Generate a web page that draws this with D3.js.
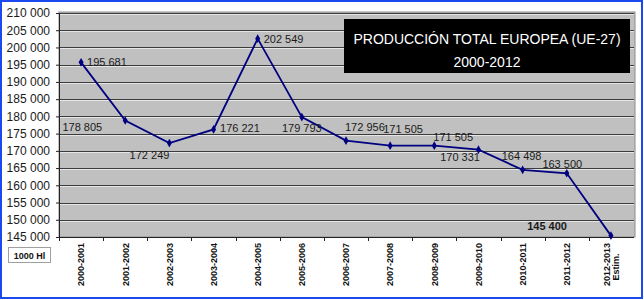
<html>
<script src='https://d3js.org/d3.v7.min.js'></script>
<style>
  body { margin: 0; background: #fff; }
  text { font-family: Arial, "Liberation Sans", sans-serif; }
</style>
<body>
<svg width=644 height=300></svg>
<script>

var seasons = ["2000-2001", "2001-2002", "2002-2003", "2003-2004", "2004-2005",
  "2005-2006", "2006-2007", "2007-2008", "2008-2009", "2009-2010",
  "2010-2011", "2011-2012", "2012-2013"];
var production = [195681, 178805, 172249, 176221, 202549, 179793, 172956,
  171505, 171505, 170331, 164498, 163500, 145400];
var yTicks = [145000, 150000, 155000, 160000, 165000, 170000, 175000, 180000,
  185000, 190000, 195000, 200000, 205000, 210000];

// where each data label sits relative to its point (like excel placed them)
var labelPlace = [
  {dx: 6, dy: 0, anchor: "start"},
  {dx: -23, dy: 6.5, anchor: "end"},
  {dx: 0, dy: 11.5, anchor: "end"},
  {dx: 6.5, dy: -1, anchor: "start"},
  {dx: 6, dy: 0, anchor: "start"},
  {dx: 0, dy: 11, anchor: "middle"},
  {dx: -1, dy: -13.5, anchor: "start"},
  {dx: -7, dy: -16.5, anchor: "start"},
  {dx: -1, dy: -8.5, anchor: "start"},
  {dx: 1.5, dy: 7.5, anchor: "end"},
  {dx: -1, dy: -14, anchor: "middle"},
  {dx: -4.5, dy: -9, anchor: "middle"},
  {dx: -44, dy: -9.5, anchor: "end"}
];

var svg = d3.select("svg");
var fmt = function(v) { return d3.format(",")(v).replace(/,/g, " "); };

var plotL = 59, plotR = 633, plotT = 13, plotB = 237;

var x = d3.scaleBand().domain(seasons).range([plotL, plotR]);
var y = d3.scaleLinear().domain([145000, 210000]).range([plotB, plotT]);

//outer blue frame
svg.append("rect")
  .attr("x", 1).attr("y", 1).attr("width", 641).attr("height", 297)
  .attr("fill", "#fff").attr("stroke", "#1c48f0").attr("stroke-width", 2);

//plot area
svg.append("rect")
  .attr("x", plotL).attr("y", plotT - 1).attr("width", plotR - plotL + 2).attr("height", plotB - plotT + 1)
  .attr("fill", "#c0c0c0").attr("stroke", "#8c8c8c").attr("stroke-width", 1);

//gridlines
var grid = svg.append("g");
yTicks.filter(function(t) { return t > 145000; }).forEach(function(t) {
  grid.append("line")
    .attr("x1", plotL).attr("x2", plotR + 1)
    .attr("y1", Math.round(y(t)) + 0.5).attr("y2", Math.round(y(t)) + 0.5)
    .attr("stroke", "#3c3c3c").attr("stroke-width", 1.2);
  grid.append("line")
    .attr("x1", plotL).attr("x2", plotR + 1)
    .attr("y1", Math.round(y(t)) + 1.5).attr("y2", Math.round(y(t)) + 1.5)
    .attr("stroke", "#e6e6e6").attr("stroke-width", 1);
});

//y-axis
var yAxis = svg.append("g")
  .attr("transform", "translate(" + plotL + ",0)")
  .call(d3.axisLeft(y).tickValues(yTicks).tickFormat(fmt).tickSize(3).tickPadding(6));
yAxis.select(".domain").attr("stroke", "#222");
yAxis.selectAll("line").attr("stroke", "#222");
yAxis.selectAll("text").attr("font-size", "12px").attr("fill", "#1a1a1a")
  .attr("font-family", "Arial, 'Liberation Sans', sans-serif");

//x-axis (ticks at category borders)
var xAxis = svg.append("g").attr("transform", "translate(0," + plotB + ")");
xAxis.append("line").attr("x1", plotL).attr("x2", plotR + 1)
  .attr("y1", 0.5).attr("y2", 0.5).attr("stroke", "#222");
seasons.forEach(function(s, i) {
  var bx = Math.round(x(s)) + 0.5;
  xAxis.append("line").attr("x1", bx).attr("x2", bx).attr("y1", 0).attr("y2", 4)
    .attr("stroke", "#222");
});
seasons.forEach(function(s, i) {
  var cx = x(s) + x.bandwidth() / 2;
  if (i < seasons.length - 1) {
    svg.append("text")
      .attr("transform", "translate(" + (cx + 3.3) + ",243) rotate(-90)")
      .attr("text-anchor", "end")
      .attr("font-size", "9px").attr("font-weight", "bold").attr("fill", "#111")
      .text(s);
  } else {
    svg.append("text")
      .attr("transform", "translate(" + (cx - 1) + ",243) rotate(-90)")
      .attr("text-anchor", "end")
      .attr("font-size", "9px").attr("font-weight", "bold").attr("fill", "#111")
      .text(s);
    svg.append("text")
      .attr("transform", "translate(" + (cx + 8.5) + ",267) rotate(-90)")
      .attr("text-anchor", "middle")
      .attr("font-size", "9px").attr("font-weight", "bold").attr("fill", "#111")
      .text("Estim.");
  }
});

//unit box
svg.append("rect").attr("x", 8.5).attr("y", 247.5).attr("width", 42).attr("height", 15)
  .attr("fill", "#fff").attr("stroke", "#a0a0a0");
svg.append("text").attr("x", 29.5).attr("y", 258.5).attr("text-anchor", "middle")
  .attr("font-size", "9px").attr("font-weight", "bold").attr("fill", "#111")
  .text("1000 Hl");

//line
var cx = function(d, i) { return x(seasons[i]) + x.bandwidth() / 2; };
var line = d3.line().x(function(d, i) { return cx(d, i); }).y(function(d) { return y(d); });
svg.append("path").datum(production)
  .attr("d", line).attr("fill", "none")
  .attr("stroke", "#000080").attr("stroke-width", 1.8);

svg.selectAll(".pt").data(production).enter().append("path")
  .attr("class", "pt")
  .attr("transform", function(d, i) { return "translate(" + cx(d, i) + "," + y(d) + ")"; })
  .attr("d", d3.symbol().type(d3.symbolDiamond).size(22))
  .attr("fill", "#000080");

//data labels
svg.selectAll(".lbl").data(production).enter().append("text")
  .attr("class", "lbl")
  .attr("x", function(d, i) { return cx(d, i) + labelPlace[i].dx; })
  .attr("y", function(d, i) { return y(d) + labelPlace[i].dy + 4; })
  .attr("text-anchor", function(d, i) { return labelPlace[i].anchor; })
  .attr("font-size", "11px")
  .attr("font-weight", function(d, i) { return i === production.length - 1 ? "bold" : "normal"; })
  .attr("fill", "#1a1a1a")
  .text(fmt);

//title box
svg.append("rect").attr("x", 344).attr("y", 19).attr("width", 286).attr("height", 54)
  .attr("fill", "#000");
svg.append("text").attr("x", 487).attr("y", 44).attr("text-anchor", "middle")
  .attr("font-size", "14px").attr("fill", "#fff")
  .text("PRODUCCIÓN TOTAL EUROPEA (UE-27)");
svg.append("text").attr("x", 487).attr("y", 67).attr("text-anchor", "middle")
  .attr("font-size", "14px").attr("fill", "#fff")
  .text("2000-2012");

</script>
</body>
</html>
